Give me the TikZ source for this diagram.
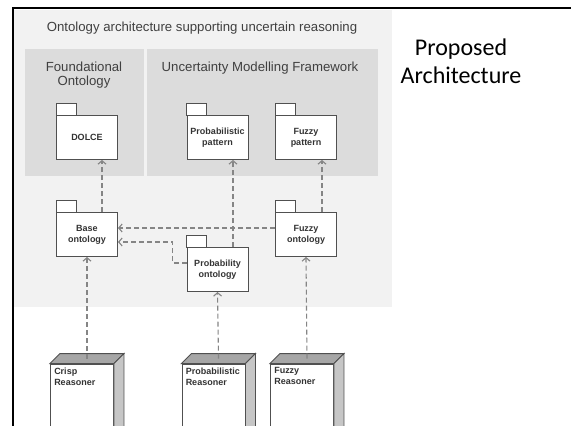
\documentclass[tikz,border=0pt]{standalone}
\usepackage{fontspec}
\setmainfont{Liberation Sans}
\newfontfamily\calibri{Carlito}
\usetikzlibrary{arrows.meta}
\definecolor{bgLight}{HTML}{F2F2F2}
\definecolor{bgPanel}{HTML}{DCDCDC}
\definecolor{lineDark}{HTML}{505050}
\definecolor{depGray}{HTML}{858585}
\tikzset{
  pkg/.style={draw=lineDark,fill=white,line width=0.9pt,minimum width=61pt,minimum height=44pt,
    align=center,inner sep=1pt,text=black!80,font=\fontsize{9}{11}\selectfont\bfseries},
  pkgtab/.style={draw=lineDark,fill=white,line width=0.9pt},
  dep/.style={draw=depGray,line width=1.1pt,dash pattern=on 5pt off 3pt,
    -{Straight Barb[length=3.5pt,width=8pt]}},
  reasoner/.style={draw=lineDark,fill=white,line width=0.9pt,minimum width=63pt,minimum height=80pt},
  rlabel/.style={anchor=north west,align=left,inner sep=4pt,text=black!80,
    font=\fontsize{9}{11}\selectfont\bfseries},
  heading/.style={text=black!75,align=center,font=\fontsize{13.2}{14.5}\selectfont},
}

\begin{document}
\begin{tikzpicture}[x=1pt,y=-1pt]
            \useasboundingbox (0,0) rectangle (571,426);
            \clip (0,0) rectangle (571,426);
            \fill[white] (0,0) rectangle (571,426);
            \fill[bgLight] (14,10) rectangle (392,307);
            \fill[bgPanel] (25,49) rectangle (144,176);
            \fill[bgPanel] (147,49) rectangle (378,176);
            \draw[line width=2pt] (13,426) -- (13,8) -- (571,8);
            \node[heading] (title) at (202,28) {Ontology architecture supporting uncertain reasoning};
            \node[heading] (found) at (84,75) {Foundational\\Ontology};
            \node[heading] (umf) at (260,68) {Uncertainty Modelling Framework};
            \node[font=\calibri\fontsize{24}{28}\selectfont,align=center] (caption) at (461,61) {Proposed\\Architecture};
            % packages
            \node[pkg] (dolce) at (87,137.5) {DOLCE};
            \node[pkg] (ppat) at (217.5,137.5) {Probabilistic\\pattern};
            \node[pkg] (fpat) at (306,137.5) {Fuzzy\\pattern};
            \node[pkg] (base) at (87,234.5) {Base\\ontology};
            \node[pkg] (fonto) at (306,234.5) {Fuzzy\\ontology};
            \node[pkg] (ponto) at (217.5,269.5) {Probability\\ontology};
            \foreach \p in {dolce,ppat,fpat,base,fonto,ponto}
                \draw[pkgtab] (\p.north west) rectangle ++(20,-12);
            % reasoners
            \node[reasoner,label={[rlabel]north west:Crisp\\Reasoner}] (crisp) at (82,404) {};
            \node[reasoner,label={[rlabel]north west:Probabilistic\\Reasoner}] (preas) at (213.5,404) {};
            \node[reasoner,label={[rlabel]north west:Fuzzy\\Reasoner}] (freas) at (302,404) {};
            \foreach \r in {crisp,preas,freas} {
                \filldraw[draw=lineDark,fill=gray!70,line width=0.9pt] (\r.north west) -- ++(10,-10)
                    -- ([shift={(10,-10)}]\r.north east) -- (\r.north east) -- cycle;
                \filldraw[draw=lineDark,fill=gray!45,line width=0.9pt] (\r.north east) -- ++(10,-10)
                    -- ++(0,80) -- (\r.south east) -- cycle;
            }
            % dependencies
            \draw[dep] ([xshift=15pt]base.north) -- ([xshift=15pt]dolce.south);
            \draw[dep] ([xshift=15.5pt]ponto.north) -- ([xshift=15.5pt]ppat.south);
            \draw[dep] ([xshift=16pt]fonto.north) -- ([xshift=16pt]fpat.south);
            \draw[dep] ([yshift=6.5pt]fonto.west) -- ([yshift=6.5pt]base.east);
            \draw[dep] ([yshift=6.5pt]ponto.west) -- ++(-14,0) |- ([yshift=-7.5pt]base.east);
            \draw[dep] ([shift={(5,-5)}]crisp.north) -- (base.south);
            \draw[dep] ([shift={(5,-5)}]preas.north) -- (ponto.south);
            \draw[dep] ([shift={(5,-5)}]freas.north) -- (fonto.south);
        \end{tikzpicture}
\end{document}
